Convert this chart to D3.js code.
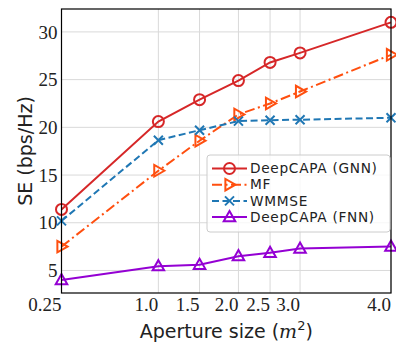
<!DOCTYPE html>
<html>
<head>
<meta charset="utf-8">
<script src="https://cdn.jsdelivr.net/npm/d3@7"></script>
<style>
  body { margin: 0; background: #fff; }
  .grid line { stroke: #d9d9d9; stroke-width: 1; }
  .tick-label { font-family: "Liberation Serif", serif; font-size: 19px; fill: #222; }
  .axis-title { font-family: "DejaVu Sans", sans-serif; font-size: 19px; fill: #222; }
  .legend-text { font-family: "DejaVu Sans", sans-serif; font-size: 13.7px; letter-spacing: 0.7px; fill: #222; }
</style>
</head>
<body>
<div id="chart"></div>
<script>
/* 
DATA
*/
// aperture sizes (tick labels) and where they sit along the plotted axis variable
const apertureLabels = ["0.25", "1.0", "1.5", "2.0", "2.5", "3.0", "4.0"];
const apertureAxis = [0, 2.94, 4.19, 5.37, 6.33, 7.24, 10];

const seGNN = [11.4, 20.6, 22.9, 24.9, 26.8, 27.8, 31.0];
const seMF = [7.5, 15.45, 18.6, 21.35, 22.5, 23.75, 27.6];
const seWMMSE = [10.2, 18.65, 19.7, 20.65, 20.75, 20.8, 21.0];
const seFNN = [4.0, 5.45, 5.6, 6.5, 6.85, 7.3, 7.5];

const yTicks = [5, 10, 15, 20, 25, 30];

const series = [
	{ name: "DeepCAPA (GNN)", values: seGNN, color: "#d62728", dash: null, marker: "circle" },
	{ name: "MF", values: seMF, color: "#ff4f0f", dash: "10,3.5,2,3.5", marker: "tri-right" },
	{ name: "WMMSE", values: seWMMSE, color: "#1f77b4", dash: "7,3.5", marker: "x" },
	{ name: "DeepCAPA (FNN)", values: seFNN, color: "#9400d3", dash: null, marker: "tri-up" },
];

/* 
SET UP 
*/
const w = 396;
const h = 343;
const m = { top: 9, right: 5, bottom: 50, left: 61.5 };

const svg = d3
	.select("#chart")
	.append("svg")
	.attr("width", w)
	.attr("height", h);

const x = d3
	.scaleLinear()
	.domain(d3.extent(apertureAxis))
	.range([m.left, w - m.right]);

const y = d3
	.scaleLinear()
	.domain([2.64, 32.4])
	.range([h - m.bottom, m.top]);

/*
GRID
*/
const grid = svg.append("g").attr("class", "grid");
grid
	.selectAll(".gx")
	.data(apertureAxis)
	.join("line")
	.attr("x1", (d) => x(d))
	.attr("x2", (d) => x(d))
	.attr("y1", y.range()[0])
	.attr("y2", y.range()[1]);
grid
	.selectAll(".gy")
	.data(yTicks)
	.join("line")
	.attr("class", "gy")
	.attr("x1", x.range()[0])
	.attr("x2", x.range()[1])
	.attr("y1", (d) => y(d))
	.attr("y2", (d) => y(d));

/*
MARKERS
*/
function markerPath(type, s) {
	if (type === "circle") return d3.symbol(d3.symbolCircle, Math.PI * s * s)();
	if (type === "x") return `M${-s},${-s}L${s},${s}M${-s},${s}L${s},${-s}`;
	if (type === "tri-up") return `M0,${-s * 1.1}L${s * 1.05},${s * 0.75}L${-s * 1.05},${s * 0.75}Z`;
	if (type === "tri-right") return `M${s * 1.1},0L${-s * 0.75},${s * 1.05}L${-s * 0.75},${-s * 1.05}Z`;
}

/*
LINES
*/
const line = d3
	.line()
	.x((d, i) => x(apertureAxis[i]))
	.y((d) => y(d));

const plot = svg.append("g");
series.forEach((s) => {
	plot
		.append("path")
		.attr("d", line(s.values))
		.attr("fill", "none")
		.attr("stroke", s.color)
		.attr("stroke-width", 2)
		.attr("stroke-dasharray", s.dash);
	plot
		.selectAll(null)
		.data(s.values)
		.join("path")
		.attr("transform", (d, i) => `translate(${x(apertureAxis[i])},${y(d)})`)
		.attr("d", markerPath(s.marker, s.marker === "x" ? 4.5 : 5.5))
		.attr("fill", "none")
		.attr("stroke", s.color)
		.attr("stroke-width", 2);
});

/*
FRAME + TICK LABELS
*/
svg
	.append("rect")
	.attr("x", x.range()[0])
	.attr("y", y.range()[1])
	.attr("width", x.range()[1] - x.range()[0])
	.attr("height", y.range()[0] - y.range()[1])
	.attr("fill", "none")
	.attr("stroke", "#000")
	.attr("stroke-width", 1.2);

svg
	.selectAll(".ylab")
	.data(yTicks)
	.join("text")
	.attr("class", "tick-label")
	.attr("x", m.left - 4)
	.attr("y", (d) => y(d))
	.attr("dy", "0.35em")
	.attr("text-anchor", "end")
	.text((d) => d);

svg
	.selectAll(".xlab")
	.data(apertureAxis)
	.join("text")
	.attr("class", "tick-label")
	.attr("x", (d) => x(d))
	.attr("y", h - m.bottom + 18)
	.attr("text-anchor", "end")
	.text((d, i) => apertureLabels[i]);

// axis titles
const xt = svg
	.append("text")
	.attr("class", "axis-title")
	.attr("x", (x.range()[0] + x.range()[1]) / 2)
	.attr("y", h - 5)
	.attr("text-anchor", "middle");
xt.append("tspan").text("Aperture size (");
xt.append("tspan").attr("font-family", "DejaVu Serif").attr("font-style", "italic").text("m");
xt.append("tspan").attr("font-size", "13px").attr("dy", "-8").text("2");
xt.append("tspan").attr("dy", "8").text(")");

svg
	.append("text")
	.attr("class", "axis-title")
	.attr("transform", `translate(32,${(y.range()[0] + y.range()[1]) / 2}) rotate(-90)`)
	.attr("text-anchor", "middle")
	.text("SE (bps/Hz)");

/*
LEGEND
*/
const lg = svg.append("g").attr("transform", "translate(207,155)");
lg.append("rect")
	.attr("width", 183)
	.attr("height", 77)
	.attr("rx", 3)
	.attr("fill", "#fff")
	.attr("fill-opacity", 0.8)
	.attr("stroke", "#cccccc");

const rows = lg
	.selectAll(".row")
	.data(series)
	.join("g")
	.attr("transform", (d, i) => `translate(0,${13.5 + i * 16.2})`);
rows
	.append("line")
	.attr("x1", 5)
	.attr("x2", 40)
	.attr("stroke", (d) => d.color)
	.attr("stroke-width", 2)
	.attr("stroke-dasharray", (d) => d.dash);
rows
	.append("path")
	.attr("transform", "translate(22.5,0)")
	.attr("d", (d) => markerPath(d.marker, d.marker === "x" ? 4.5 : 5.5))
	.attr("fill", "none")
	.attr("stroke", (d) => d.color)
	.attr("stroke-width", 2);
rows
	.append("text")
	.attr("class", "legend-text")
	.attr("x", 43)
	.attr("dy", "0.35em")
	.text((d) => d.name);
</script>
</body>
</html>
